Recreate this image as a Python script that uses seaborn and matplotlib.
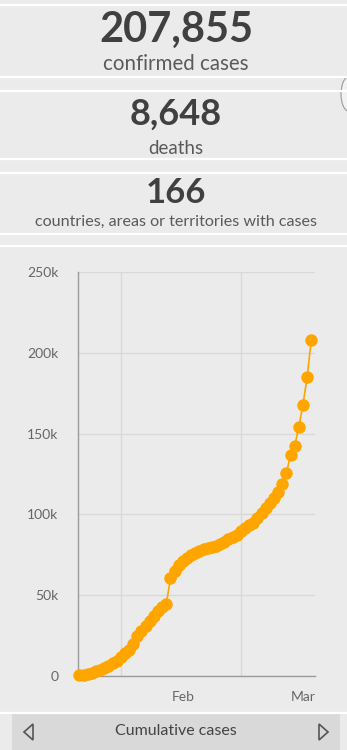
import numpy as np
import pandas as pd
import matplotlib
matplotlib.use("Agg")
import matplotlib.pyplot as plt
import matplotlib.dates as mdates
from matplotlib.patches import Rectangle, Polygon, Circle
from matplotlib.lines import Line2D
import seaborn as sns

# ---------------- data ----------------
headline_values = ["207,855", "8,648", "166"]
headline_labels = ["confirmed cases", "deaths", "countries, areas or territories with cases"]

start_date = "2020-01-22"
cumulative_cases = [
    600, 850, 1300, 2000, 2800, 3700, 5000, 6100, 7800, 9500,
    11900, 14500, 16000, 20000, 24500, 28000, 31000, 34000, 37000, 40000,
    42500, 44800, 60500, 65000, 68500, 71000, 73300, 75100, 76000, 77500,
    78500, 79500, 80000, 80500, 81500, 83000, 84500, 86000, 87500, 89500,
    91500, 93300, 94500, 98000, 101000, 104000, 107000, 110000, 114000, 118800,
    125500, 137000, 142500, 154000, 168000, 185000, 208000,
]
dates = pd.date_range(start_date, periods=len(cumulative_cases), freq="D")
y_ticks = [0, 50000, 100000, 150000, 200000, 250000]
y_tick_labels = ["0", "50k", "100k", "150k", "200k", "250k"]
month_ticks = ["2020-02-01", "2020-03-01"]
month_label_pos = ["2020-02-16", "2020-03-16"]
month_labels = ["Feb", "Mar"]
footer_text = "Cumulative cases"

df = pd.DataFrame({"date": dates, "cases": cumulative_cases})

# ---------------- figure ----------------
sns.set_theme(style="white")
plt.rcParams["font.family"] = ["Lato", "DejaVu Sans"]

W, H = 347, 750
BG = "#ebebeb"
fig = plt.figure(figsize=(W / 100, H / 100), dpi=100, facecolor=BG)

def fx(px):
    return px / W

def fy(py):
    return 1 - py / H

# white separator lines
for yline in [5, 77, 91, 159, 173, 234, 246, 713]:
    fig.add_artist(Line2D([0, 1], [fy(yline), fy(yline)], color="white", lw=1.6,
                          transform=fig.transFigure))

# small scroll circle at right edge
fig.add_artist(Circle((fx(349), fy(94)), radius=fx(8), transform=fig.transFigure,
                      facecolor="#f2f2f2", edgecolor="#9a9a9a", lw=0.8))

# headline texts
NUM = "#404040"
LAB = "#5a5a5a"
fig.text(fx(176), fy(30), headline_values[0], ha="center", va="center",
         fontsize=30, fontweight="bold", color=NUM)
fig.text(fx(176), fy(64), headline_labels[0], ha="center", va="center",
         fontsize=14.8, color=LAB)
fig.text(fx(176), fy(114), headline_values[1], ha="center", va="center",
         fontsize=26, fontweight="bold", color=NUM)
fig.text(fx(176), fy(148), headline_labels[1], ha="center", va="center",
         fontsize=13.5, color=LAB)
fig.text(fx(176), fy(222), headline_labels[2], ha="center", va="center",
         fontsize=11.6, color=LAB)
fig.text(fx(176), fy(193), headline_values[2], ha="center", va="center",
         fontsize=25, fontweight="bold", color=NUM)

# ---------------- chart ----------------
left, right, top, bottom = 78, 315, 272, 676
ax = fig.add_axes([fx(left), fy(bottom), (right - left) / W, (bottom - top) / H])
ax.set_facecolor(BG)

sns.lineplot(data=df, x="date", y="cases", ax=ax, color="#FFA500", linewidth=1.2,
             marker="o", markersize=8.2, markeredgecolor="#FFA500",
             markerfacecolor="#FFA500", clip_on=False, zorder=5)

x0 = pd.Timestamp(start_date)
ax.set_xlim(x0 - pd.Timedelta(hours=8), dates[-1] + pd.Timedelta(days=0.9))
ax.set_ylim(0, 250000)

ax.set_yticks(y_ticks)
ax.set_yticklabels(y_tick_labels)
ax.grid(axis="y", color="#d9d9d9", lw=1)
ax.set_xticks(pd.to_datetime(month_ticks))
ax.set_xticklabels(["", ""])
ax.grid(axis="x", color="#d9d9d9", lw=1)
ax.set_axisbelow(True)

ax.tick_params(axis="y", which="major", length=8, width=1, color="#bdbdbd",
               labelsize=10, labelcolor="#666666", pad=6)
ax.tick_params(axis="x", which="major", length=8, width=1, color="#9a9a9a",
               direction="out")
ax.set_xticks(pd.to_datetime(month_label_pos), minor=True)
ax.set_xticklabels(month_labels, minor=True)
ax.tick_params(axis="x", which="minor", length=0, labelsize=10,
               labelcolor="#666666", pad=11)

for s in ["top", "right"]:
    ax.spines[s].set_visible(False)
ax.spines["left"].set_color("#9a9a9a")
ax.spines["bottom"].set_color("#9a9a9a")
ax.spines["left"].set_linewidth(1)
ax.spines["bottom"].set_linewidth(1)
ax.set_xlabel("")
ax.set_ylabel("")

# ---------------- footer ----------------
fig.add_artist(Rectangle((fx(12), 0), fx(340) - fx(12), fy(714), transform=fig.transFigure,
                         facecolor="#d9d9d9", edgecolor="none"))
fig.text(fx(176), fy(731), footer_text, ha="center", va="center", fontsize=11.5,
         color="#444444")
tri_l = Polygon([[fx(33), fy(724)], [fx(33), fy(740)], [fx(24), fy(732)]], closed=True,
                transform=fig.transFigure, facecolor="none", edgecolor="#555555", lw=1.2)
tri_r = Polygon([[fx(319), fy(724)], [fx(319), fy(740)], [fx(328), fy(732)]], closed=True,
                transform=fig.transFigure, facecolor="none", edgecolor="#555555", lw=1.2)
fig.add_artist(tri_l)
fig.add_artist(tri_r)

fig.savefig("out.png", dpi=100, facecolor=BG)
